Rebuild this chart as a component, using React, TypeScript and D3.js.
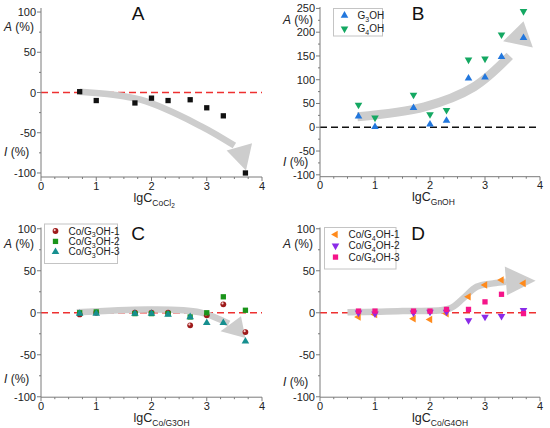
import React from 'react';
import * as d3 from 'd3';

type Pt = [number, number];

// shared concentrations (lg C)
const lgC = [0.7, 1, 1.7, 2, 2.3, 2.7, 3, 3.3, 3.7];

// panel A
const coCl2 = [1, -10, -13, -7, -10, -9, -19, -29, -100];

// panel B
const g3oh = [23, 1, 41, 6, 14, 103, 105, 148, 188];
const g4oh = [47, 20, 68, 27, 36, 142, 144, 195, 244];

// panel C
const coG3oh1 = [-2, 0, 0, 0, 0, -15, -3, 10, -23];
const coG3oh2 = [0, 1, -1, -1, -1, -5, 0, 19, 3];
const coG3oh3 = [-1, -1, -1, -1, -2, -5, -12, -12, -34];

// panel D
const coG4oh1 = [-5, -2, -7, -8, -1, 19, 33, 39, 35];
const coG4oh2 = [0, -1, 0, 1, 1, -9, -5, -4, 3];
const coG4oh3 = [2, 2, 2, 2, 4, 4, 13, 22, -1];

const xTicks = [0, 1, 2, 3, 4];
const yTicksSmall = [-100, -50, 0, 50, 100];
const yTicksB = [-100, -50, 0, 50, 100, 150, 200, 250];

// trend arrows (data units)
const arrowA: Pt[] = [[0.7, 1], [1.8, -9], [2.9, -42], [3.5, -66]];
const headA: Pt[] = [[3.36, -72], [3.82, -63], [3.71, -97]];
const arrowB: Pt[] = [[0.68, 22], [1.9, 43], [2.8, 85], [3.45, 150]];
const headB: Pt[] = [[3.33, 181], [3.87, 168], [3.7, 223]];
const arrowC: Pt[] = [[0.65, 0.5], [1.97, 4], [2.88, 0.5], [3.4, -13]];
const headC: Pt[] = [[3.62, -4], [3.25, -22], [3.7, -30]];
const arrowD: Pt[] = [[0.5, 0.5], [1.5, 2], [2.35, 5], [2.6, 17], [2.85, 31], [3.15, 35], [3.38, 37]];
const headD: Pt[] = [[3.36, 55], [3.4, 21], [3.92, 38]];

type Series = { name: string[]; values: number[]; color: string; shape: string };

const font = 'Liberation Sans, Arial, Helvetica, sans-serif';

const symbolPath = (shape: string) => {
  if (shape === 'square') return d3.symbol(d3.symbolSquare, 28)()!;
  if (shape === 'circle') return d3.symbol(d3.symbolCircle, 26)()!;
  return d3.symbol(d3.symbolTriangle, 25)()!;
};

const Marker = ({ x, y, shape, color }: { x: number; y: number; shape: string; color: string }) => {
  let rot = 0;
  if (shape === 'down') rot = 180;
  if (shape === 'left') rot = -90;
  if (shape === 'circle') {
    return (
      <g transform={`translate(${x},${y})`}>
        <circle r={2.9} fill={color} />
        <circle cx={-0.8} cy={-0.9} r={1.1} fill="#f4d0d0" />
      </g>
    );
  }
  return <path d={symbolPath(shape)} transform={`translate(${x},${y}) rotate(${rot})`} fill={color} />;
};

// label with subscript, e.g. G3OH => ['G', '3', 'OH']
const SubText = ({ parts, size }: { parts: string[]; size: number }) => (
  <>
    {parts.map((p, i) =>
      i % 2 === 1 ? (
        <tspan key={i} fontSize={size * 0.7} dy={size * 0.28}>
          {p}
        </tspan>
      ) : (
        <tspan key={i} dy={i === 0 ? 0 : -size * 0.28}>
          {p}
        </tspan>
      )
    )}
  </>
);

type PanelProps = {
  letter: string;
  letterX: number;
  letterY: number;
  x0: number;
  x1: number;
  yTop: number;
  yBot: number;
  yDom: [number, number];
  yTicks: number[];
  series: Series[];
  zeroColor: string;
  arrow: Pt[];
  head: Pt[];
  arrowW: number;
  title: React.ReactNode;
  aY: number;
  iY: number;
  legend?: { x: number; y: number; w: number; h: number; rowH: number };
};

const Panel = (p: PanelProps) => {
  const x = d3.scaleLinear().domain([0, 4]).range([p.x0, p.x1]);
  const y = d3.scaleLinear().domain(p.yDom).range([p.yBot, p.yTop]);
  const axisColor = '#7a7a7a';
  const xMinor = d3.range(0, 4.01, 0.25).filter((v) => !xTicks.includes(v));
  const yMinor = d3.range(p.yTicks[0], p.yDom[1], 25).filter((v) => !p.yTicks.includes(v));
  const shaft = d3
    .line<Pt>()
    .x((d) => x(d[0]))
    .y((d) => y(d[1]))
    .curve(d3.curveCatmullRom.alpha(0.5));
  const head = p.head.map((d) => `${x(d[0])},${y(d[1])}`).join(' ');

  return (
    <g fontFamily={font}>
      {/* zero line */}
      <line x1={x(0)} x2={x(4)} y1={y(0)} y2={y(0)} stroke={p.zeroColor} strokeWidth={1.5} strokeDasharray="7,4" />
      {/* trend arrow */}
      <path d={shaft(p.arrow)!} fill="none" stroke="#cdcdcd" strokeWidth={p.arrowW} strokeLinecap="butt" />
      <polygon points={head} fill="#cdcdcd" />
      {/* points */}
      {p.series.map((s) =>
        s.values.map((v, i) => <Marker key={s.name.join('') + i} x={x(lgC[i])} y={y(v)} shape={s.shape} color={s.color} />)
      )}
      {/* axes */}
      <line x1={p.x0} x2={p.x0} y1={p.yTop} y2={p.yBot} stroke={axisColor} strokeWidth={1} />
      <line x1={p.x0} x2={p.x1} y1={p.yBot} y2={p.yBot} stroke={axisColor} strokeWidth={1} />
      {p.yTicks.map((t) => (
        <g key={'yt' + t}>
          <line x1={p.x0 - 4} x2={p.x0} y1={y(t)} y2={y(t)} stroke={axisColor} />
          <text x={p.x0 - 5} y={y(t) + 4} fontSize={11} textAnchor="end" fill="#222">
            {t}
          </text>
        </g>
      ))}
      {yMinor.map((t) => (
        <line key={'ym' + t} x1={p.x0 - 2} x2={p.x0} y1={y(t)} y2={y(t)} stroke={axisColor} />
      ))}
      {xTicks.map((t) => (
        <g key={'xt' + t}>
          <line x1={x(t)} x2={x(t)} y1={p.yBot} y2={p.yBot + 4} stroke={axisColor} />
          <text x={x(t)} y={p.yBot + 12.5} fontSize={11} textAnchor="middle" fill="#222">
            {t}
          </text>
        </g>
      ))}
      {xMinor.map((t) => (
        <line key={'xm' + t} x1={x(t)} x2={x(t)} y1={p.yBot} y2={p.yBot + 2} stroke={axisColor} />
      ))}
      {/* axis labels */}
      <text x={p.x0 - 37} y={p.aY} fontSize={12} fill="#222">
        <tspan fontStyle="italic">A</tspan> (%)
      </text>
      <text x={p.x0 - 37} y={p.iY} fontSize={12} fill="#222">
        <tspan fontStyle="italic">I</tspan> (%)
      </text>
      <text x={(p.x0 + p.x1) / 2 - 18} y={p.yBot + 24.5} fontSize={12.5} fill="#222">
        {p.title}
      </text>
      <text x={p.letterX} y={p.letterY} fontSize={19} textAnchor="middle" fill="#111">
        {p.letter}
      </text>
      {/* legend */}
      {p.legend && (
        <g>
          <rect x={p.legend.x} y={p.legend.y} width={p.legend.w} height={p.legend.h} fill="#fff" stroke="#c4c4c4" />
          {p.series.map((s, i) => {
            const ry = p.legend!.y + 7 + i * p.legend!.rowH;
            return (
              <g key={'lg' + i}>
                <Marker x={p.legend!.x + 11} y={ry} shape={s.shape} color={s.color} />
                <text x={p.legend!.x + 24} y={ry + 3.5} fontSize={10} fill="#222">
                  <SubText parts={s.name} size={10} />
                </text>
              </g>
            );
          })}
        </g>
      )}
    </g>
  );
};

const xTitle = (sub: React.ReactNode) => (
  <>
    <tspan>lgC</tspan>
    <tspan fontSize={8.5} dy={4}>
      {sub}
    </tspan>
  </>
);

const App = () => {
  const seriesA: Series[] = [{ name: ['CoCl2'], values: coCl2, color: '#111', shape: 'square' }];
  const seriesB: Series[] = [
    { name: ['G', '3', 'OH'], values: g3oh, color: '#2277dd', shape: 'up' },
    { name: ['G', '4', 'OH'], values: g4oh, color: '#14a862', shape: 'down' },
  ];
  const seriesC: Series[] = [
    { name: ['Co/G', '3', 'OH-1'], values: coG3oh1, color: '#9e1a1a', shape: 'circle' },
    { name: ['Co/G', '3', 'OH-2'], values: coG3oh2, color: '#1a941a', shape: 'square' },
    { name: ['Co/G', '3', 'OH-3'], values: coG3oh3, color: '#168f8f', shape: 'up' },
  ];
  const seriesD: Series[] = [
    { name: ['Co/G', '4', 'OH-1'], values: coG4oh1, color: '#ff8a1c', shape: 'left' },
    { name: ['Co/G', '4', 'OH-2'], values: coG4oh2, color: '#8a2be8', shape: 'down' },
    { name: ['Co/G', '4', 'OH-3'], values: coG4oh3, color: '#f5158a', shape: 'square' },
  ];

  return (
    <svg width={550} height={428} style={{ position: 'absolute', left: 0, top: 0, background: '#fff' }}>
      <Panel
        letter="A"
        letterX={138}
        letterY={20}
        x0={41}
        x1={262}
        yTop={8}
        yBot={177}
        yDom={[-105, 105]}
        yTicks={yTicksSmall}
        series={seriesA}
        zeroColor="#ee3030"
        arrow={arrowA}
        head={headA}
        arrowW={6.5}
        title={xTitle(
          <>
            CoCl
            <tspan fontSize={6.5} dy={2}>
              2
            </tspan>
          </>
        )}
        aY={31}
        iY={156}
      />
      <Panel
        letter="B"
        letterX={418}
        letterY={20}
        x0={320}
        x1={540}
        yTop={7}
        yBot={176.7}
        yDom={[-104, 253]}
        yTicks={yTicksB}
        series={seriesB}
        zeroColor="#111"
        arrow={arrowB}
        head={headB}
        arrowW={9}
        title={xTitle('GnOH')}
        aY={24}
        iY={166}
        legend={{ x: 333.5, y: 8.5, w: 49, h: 27.5, rowH: 13.3 }}
      />
      <Panel
        letter="C"
        letterX={138}
        letterY={240}
        x0={41}
        x1={262}
        yTop={227.5}
        yBot={397.2}
        yDom={[-100.5, 101.5]}
        yTicks={yTicksSmall}
        series={seriesC}
        zeroColor="#ee3030"
        arrow={arrowC}
        head={headC}
        arrowW={6.5}
        title={xTitle('Co/G3OH')}
        aY={248}
        iY={383}
        legend={{ x: 44.5, y: 224, w: 73, h: 39.5, rowH: 10.4 }}
      />
      <Panel
        letter="D"
        letterX={418}
        letterY={240}
        x0={320}
        x1={540}
        yTop={227.5}
        yBot={397.2}
        yDom={[-100.5, 101.5]}
        yTicks={yTicksSmall}
        series={seriesD}
        zeroColor="#ee3030"
        arrow={arrowD}
        head={headD}
        arrowW={6.5}
        title={xTitle('Co/G4OH')}
        aY={248}
        iY={386}
        legend={{ x: 324.5, y: 227.5, w: 71.5, h: 41.5, rowH: 11.3 }}
      />
    </svg>
  );
};

export default App;
